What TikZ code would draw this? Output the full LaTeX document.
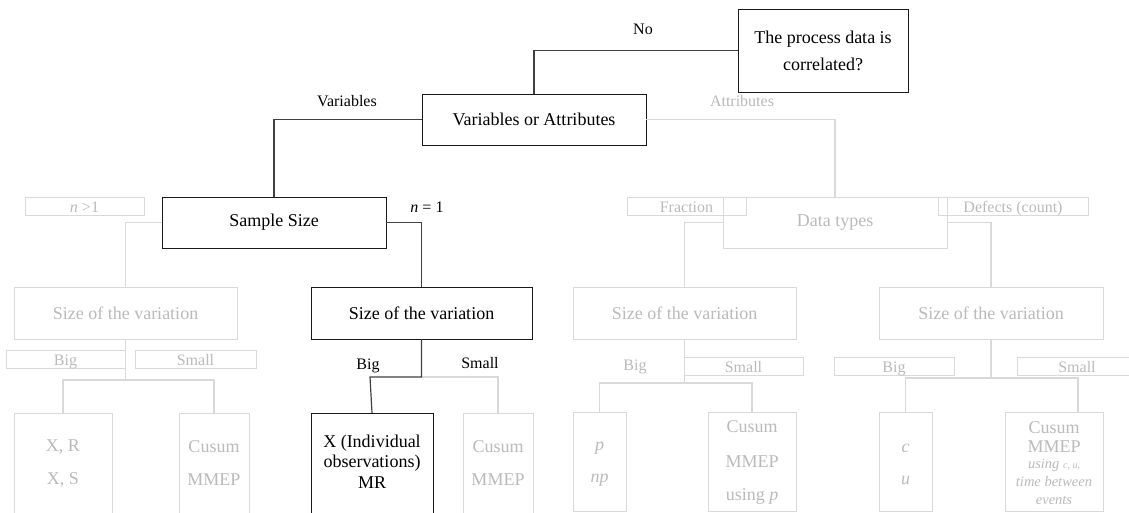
\documentclass[tikz,border=0pt]{standalone}
\usepackage{fontspec}
\setmainfont{Liberation Serif}
\begin{document}
\begin{tikzpicture}[x=1pt,y=-1pt,
  every node/.style={inner sep=0pt, outer sep=0pt, align=center},
  mainfont/.style={font=\fontsize{18}{27}\selectfont},
  tagfont/.style={font=\fontsize{16}{18}\selectfont},
  onbox/.style={draw=black!90, line width=1pt, mainfont},
  offbox/.style={draw=black!15, line width=1pt, mainfont, text=black!27},
  offtag/.style={draw=black!15, line width=1pt, tagfont, text=black!27,
    minimum height=18pt, text height=13pt, text depth=1pt},
  ontext/.style={mainfont, text=black},
  offtext/.style={mainfont, text=black!27},
  onlink/.style={draw=black!75, line width=1.2pt},
  offlink/.style={draw=black!15, line width=1.2pt}]
\useasboundingbox (0,0) rectangle (1129,512);
\clip (0,0) rectangle (1129,512);

% decision boxes
\node[onbox, minimum width=170pt, minimum height=83pt] (top) at (823,50.5)
  {The process data is\\correlated?};
\node[onbox, minimum width=224pt, minimum height=51pt] (va) at (534,119.5) {Variables or Attributes};
\node[onbox, minimum width=224pt, minimum height=51pt] (ss) at (274,222.5) {Sample Size};
\node[offbox, minimum width=224pt, minimum height=51pt] (dt) at (835,222.5) {Data types};
\node[offbox, minimum width=223pt, minimum height=52pt] (sov1) at (125.5,313) {Size of the variation};
\node[onbox, minimum width=221pt, minimum height=52pt] (sov2) at (421.5,313) {Size of the variation};
\node[offbox, minimum width=223pt, minimum height=52pt] (sov3) at (684.5,313) {Size of the variation};
\node[offbox, minimum width=224pt, minimum height=52pt] (sov4) at (991,313) {Size of the variation};

% branch labels
\node[tagfont] (lno) at (643,29) {No};
\node[tagfont] (lvar) at (347,101) {Variables};
\node[tagfont, text=black!27] (latt) at (742,101) {Attributes};
\node[offtag, minimum width=119pt] (lgt) at (84.5,206) {\textit{n} >1};
\node[tagfont] (leq) at (427,207) {\textit{n} = 1};
\node[offtag, minimum width=119pt] (lfrac) at (686.5,206) {Fraction};
\node[offtag, minimum width=150pt] (ldef) at (1013,206) {Defects (count)};
\node[offtag, minimum width=119pt] (lbig1) at (65.5,359) {Big};
\node[offtag, minimum width=121pt] (lsmall1) at (195.5,359) {Small};
\node[tagfont] (lbig2) at (368,366) {Big};
\node[tagfont] (lsmall2) at (480,363) {Small};
\node[tagfont, text=black!27] (lbig3) at (635,367) {Big};
\node[offtag, minimum width=119pt] (lsmall3) at (743.5,366) {Small};
\node[offtag, minimum width=120pt] (lbig4) at (894,366) {Big};
\node[offtag, minimum width=120pt] (lsmall4) at (1077,366) {Small};

% chart boxes
\node[offbox, anchor=north, minimum width=98pt, minimum height=120pt] (xr) at (63,413) {};
\node[offbox, anchor=north, minimum width=70pt, minimum height=120pt] (cus1) at (214,413) {};
\node[onbox, anchor=north, minimum width=122pt, minimum height=120pt] (xind) at (372,413) {};
\node[offbox, anchor=north, minimum width=70pt, minimum height=120pt] (cus2) at (498,413) {};
\node[offbox, anchor=north, minimum width=53pt, minimum height=99pt] (pnp) at (599.5,412) {};
\node[offbox, anchor=north, minimum width=88pt, minimum height=99pt] (cus3) at (752,412) {};
\node[offbox, anchor=north, minimum width=53pt, minimum height=99pt] (cu) at (905.5,412) {};
\node[offbox, anchor=north, minimum width=98pt, minimum height=99pt] (cus4) at (1054,412) {};

% chart names
\node[offtext] (txr1) at (63,447) {X, R};
\node[offtext] (txr2) at (63,480) {X, S};
\node[offtext] (tc11) at (214,447) {Cusum};
\node[offtext] (tc12) at (214,480) {MMEP};
\node[ontext] (tx1) at (372,443) {X (Individual};
\node[ontext] (tx2) at (372,463) {observations)};
\node[ontext] (tx3) at (372,483) {MR};
\node[offtext] (tc21) at (498,447) {Cusum};
\node[offtext] (tc22) at (498,480) {MMEP};
\node[offtext] (tp1) at (599.5,448) {\textit{p}};
\node[offtext] (tp2) at (599.5,480) {\textit{np}};
\node[offtext] (tc31) at (752,427) {Cusum};
\node[offtext] (tc32) at (752,462) {MMEP};
\node[offtext] (tc33) at (752,496) {using \textit{p}};
\node[offtext] (tcu1) at (905.5,448) {\textit{c}};
\node[offtext] (tcu2) at (905.5,480) {\textit{u}};
\node[offtext] (tc41) at (1054,428) {Cusum};
\node[offtext] (tc42) at (1054,447) {MMEP};
\node[offtext, font=\fontsize{14.5}{16}\itshape] (tc43) at (1054,465) {using {\fontsize{10}{12}\selectfont c, u,}};
\node[offtext, font=\fontsize{14.5}{16}\itshape] (tc44) at (1054,482) {time between};
\node[offtext, font=\fontsize{14.5}{16}\itshape] (tc45) at (1054,500) {events};

% junctions
\coordinate (j1) at (125.5,380);
\coordinate (j2) at (421.5,377);
\coordinate (j2b) at (370,377);
\coordinate (j3) at (684.5,383);
\coordinate (j4) at (991,378);
\coordinate (c4top) at (1078,412);

% connectors
\draw[onlink] (top.west) -| (va.north);
\draw[onlink] (va.west) -| (ss.north);
\draw[offlink] (va.east) -| (dt.north);
\draw[offlink] (ss.west) -| (sov1.north);
\draw[onlink] (ss.east) -| (sov2.north);
\draw[offlink] (dt.west) -| (sov3.north);
\draw[offlink] (dt.east) -| (sov4.north);

\draw[offlink] (sov1.south) -- (j1);
\draw[offlink] (xr.north) |- (j1) -| (cus1.north);
\draw[offlink] (j2) -| (cus2.north);
\draw[onlink] (sov2.south) -- (j2) -- (j2b) -- (xind.north);
\draw[offlink] (sov3.south) -- (j3);
\draw[offlink] (pnp.north) |- (j3) -| (cus3.north);
\draw[offlink] (sov4.south) -- (j4);
\draw[offlink] (cu.north) |- (j4) -| (c4top);
\end{tikzpicture}
\end{document}
